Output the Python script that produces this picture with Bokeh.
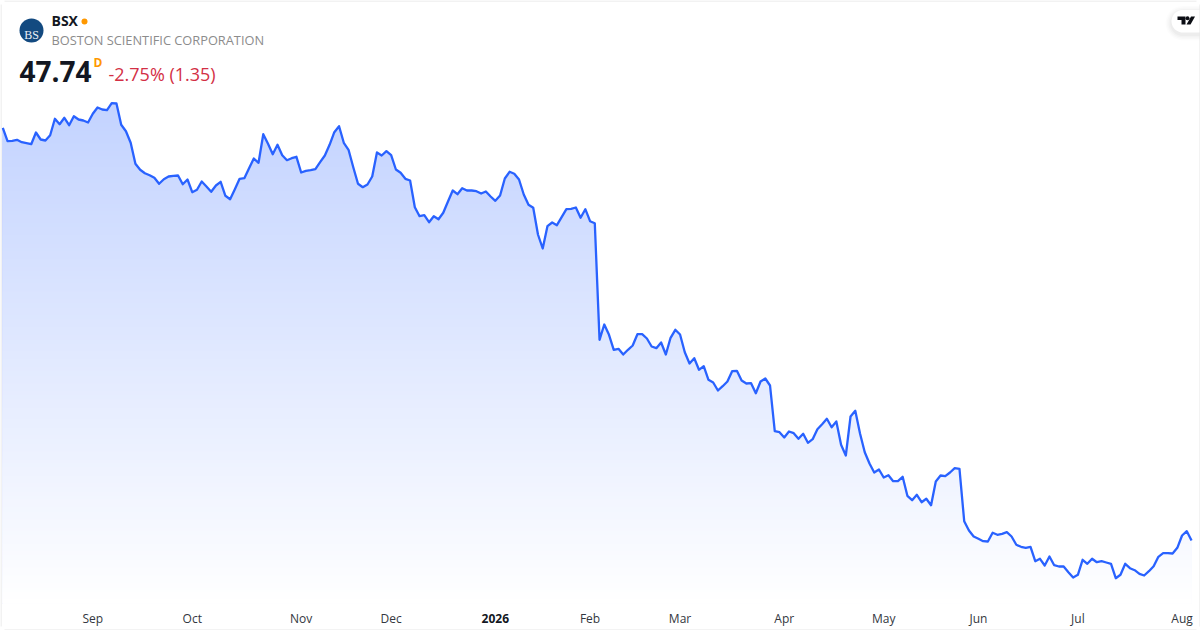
from bokeh.plotting import figure
from bokeh.embed import file_html
from bokeh.resources import INLINE
from bokeh.models import Range1d, FixedTicker, Label, LinearAxis
import numpy as np

prices = [
 89.01,87.67,87.71,87.81,87.57,87.47,87.37,88.54,87.84,87.74,88.27,89.91,89.37,90.01,89.27,90.17,89.84,89.74,89.54,90.41,
 91.04,90.84,90.77,91.47,91.44,89.31,88.67,87.51,85.41,84.81,84.47,84.27,84.01,83.41,83.87,84.14,84.21,84.24,83.37,83.84,
 82.57,82.81,83.64,83.14,82.61,83.24,83.61,82.21,81.87,82.87,83.91,83.97,84.97,85.94,85.51,88.37,87.41,86.37,87.31,86.27,
 85.77,85.97,86.11,84.54,84.71,84.77,84.87,85.57,86.24,87.31,88.57,89.17,87.51,86.81,85.07,83.41,83.07,83.34,84.14,86.54,
 86.24,86.67,86.27,84.84,84.51,83.91,83.74,81.07,80.17,80.27,79.57,80.17,79.87,80.51,81.64,82.74,82.37,82.97,82.74,82.74,
 82.67,82.44,82.64,82.14,81.71,82.24,83.94,84.61,84.41,83.84,82.34,81.31,81.01,78.34,76.94,79.17,79.54,79.27,80.07,80.87,
 80.91,81.04,80.01,80.87,79.67,79.47,67.81,69.34,68.31,66.81,66.91,66.34,66.81,67.24,68.37,68.37,67.94,67.14,66.97,67.54,
 66.34,68.01,68.81,68.34,66.57,65.44,65.97,64.81,65.17,63.81,63.54,62.74,63.17,63.64,64.67,64.71,63.74,63.44,63.47,62.47,
 63.64,63.94,63.24,58.67,58.57,58.04,58.64,58.47,57.91,58.41,57.51,57.87,58.87,59.37,59.91,59.07,59.64,57.31,56.24,60.14,
 60.71,58.44,56.57,55.44,54.54,54.84,54.04,54.27,53.67,53.67,54.11,52.21,51.77,52.31,51.57,51.91,51.27,53.64,54.24,54.17,
 54.54,54.97,54.91,49.67,48.74,48.14,47.91,47.67,47.64,48.51,48.31,48.41,48.57,48.14,47.31,47.11,47.01,47.11,45.67,45.91,
 45.24,46.14,45.27,45.14,45.14,44.57,44.04,44.31,45.81,45.41,45.91,45.57,45.67,45.54,45.41,43.97,44.31,45.41,44.97,44.77,
 44.41,44.24,44.67,45.17,46.11,46.47,46.47,46.44,47.01,48.24,48.67,47.74,
]
tick_index = [19, 40, 63, 82, 104, 124, 143, 165, 186, 206, 227, 249]
tick_labels = ["Sep", "Oct", "Nov", "Dec", "2026", "Feb", "Mar", "Apr", "May", "Jun", "Jul", "Aug"]
symbol = "BSX"
company = "BOSTON SCIENTIFIC CORPORATION"
last_price = "47.74"
change_text = "-2.75% (1.35)"

W, H = 1200, 630
X0, DX = 2.3, 4.736
x_idx = np.arange(len(prices))
y = np.array(prices)

def px(v):
    return (v - X0) / DX
def py(v):
    return 101.74 - v / 10

p = figure(width=W, height=H, output_backend="svg", toolbar_location=None,
           x_range=Range1d(px(0), px(W)), y_range=Range1d(py(H), py(0)),
           min_border=0, x_axis_location=None, y_axis_location=None,
           background_fill_color="white", border_fill_color="white")
p.outline_line_color = None
p.grid.visible = False

def month_axis(ticks, overrides, color, style, standoff):
    a = LinearAxis(fixed_location=py(603), ticker=FixedTicker(ticks=ticks), major_label_overrides=overrides,
                   axis_line_color=None, major_tick_line_color=None, minor_tick_line_color=None,
                   major_label_text_font="Open Sans", major_label_text_font_size="12px",
                   major_label_text_color=color, major_label_text_font_style=style, major_label_standoff=standoff)
    p.add_layout(a, "below")

plain = [(i, t) for i, t in zip(tick_index, tick_labels) if t != "2026"]
bold = [(i, t) for i, t in zip(tick_index, tick_labels) if t == "2026"]
month_axis([i for i, _ in plain], dict(plain), "#333740", "normal", 0)
month_axis([i for i, _ in bold], dict(bold), "#131722", "bold", 4)

# gradient fill, painted top-down
base = py(603)
top = y.max()
for lv in np.linspace(top, base, 126):
    a = 0.28 * (lv - base) / (top - base)
    c = "#%02x%02x%02x" % (round(255 - 214 * a), round(255 - 157 * a), 255)
    p.varea(x=x_idx, y1=np.full(len(y), base), y2=np.minimum(y, lv), fill_color=c, fill_alpha=1)

p.line(x_idx, y, line_color="#2962FF", line_width=2.3, line_join="round")

def lab(text, x, ytop, size, color, weight="normal", font="Open Sans", align="left"):
    p.add_layout(Label(x=x, y=H - ytop, x_units="screen", y_units="screen", text=text,
                       text_font=font, text_font_size=size, text_color=color, text_font_style=weight,
                       text_align=align, text_baseline="alphabetic"))

# header
p.scatter([px(31)], [py(30)], size=24, marker="circle", fill_color="#134a80", line_color=None)
lab("BS", 31, 34, "12px", "#e8eef6", font="Liberation Serif", align="center")
lab(symbol, 51, 20, "14px", "#131722", "bold")
p.scatter([px(84)], [py(21)], size=6, marker="circle", fill_color="#FF9800", line_color=None)
lab(company, 51, 39, "12.8px", "#8c8c8c")
lab(last_price, 19, 71, "28px", "#131722", "bold")
lab("D", 93, 62, "12px", "#FF9800", "bold")
lab(change_text, 108, 73, "18px", "#D32F45")

# attribution badge: soft shadow, white pill, logo
def pill(left, ttop, bottom):
    r = (bottom - ttop) / 2
    ang = np.linspace(np.pi / 2, 3 * np.pi / 2, 24)
    xs = list(left + r + r * np.cos(ang)) + [1201, 1201]
    ys = list((ttop + bottom) / 2 - r * np.sin(ang)) + [bottom, ttop]
    return [px(v) for v in xs], [py(v) for v in ys]

for grow, alpha in [(6, .012), (4.5, .015), (3, .02), (1.5, .025)]:
    sx_, sy_ = pill(1171 - grow, 9.5 - grow + 2, 32 + grow + 2)
    p.patch(sx_, sy_, fill_color="#000000", fill_alpha=alpha, line_color=None)
bx, by = pill(1171, 9.5, 32)
p.patch(bx, by, fill_color="white", line_color=None)
tx = [1177, 1185, 1185, 1181, 1181, 1177]
ty = [16, 16, 24, 24, 19.5, 19.5]
p.patch([px(v) for v in tx], [py(v) for v in ty], fill_color="#0c0e14", line_color=None)
p.scatter([px(1187)], [py(17.8)], size=4, marker="circle", fill_color="#0c0e14", line_color=None)
sx = [1190.5, 1194.5, 1190, 1186]
sy = [16, 16, 24, 24]
p.patch([px(v) for v in sx], [py(v) for v in sy], fill_color="#0c0e14", line_color=None)

# card border
for xs, ys in [([0.5, 0.5], [4, 626]), ([1199.5, 1199.5], [4, 626]), ([4, 1196], [0.5, 0.5]), ([4, 1196], [629.5, 629.5])]:
    p.line([px(v) for v in xs], [py(v) for v in ys], line_color="#e6e6e6", line_width=1)

open("out.html", "w").write(file_html(p, INLINE))
